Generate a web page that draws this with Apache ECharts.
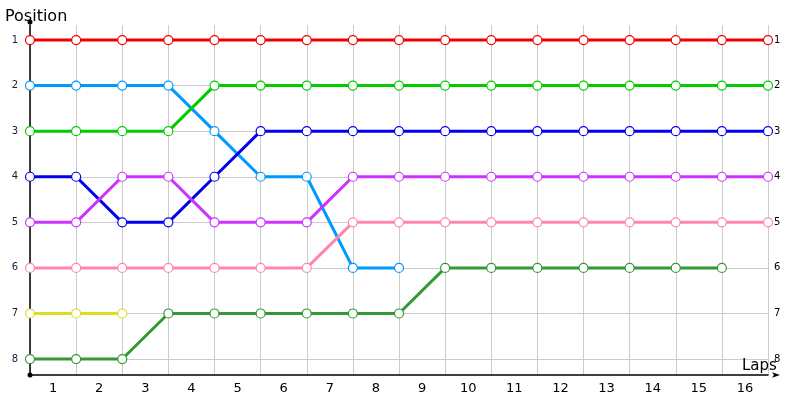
<!DOCTYPE html>
<html>
<head>
<meta charset="utf-8">
<script src="https://cdn.jsdelivr.net/npm/echarts@6/dist/echarts.min.js"></script>
<style>
  html, body { margin: 0; padding: 0; background: #fff; }
  #chart { width: 800px; height: 400px; }
</style>
</head>
<body>
<div id="chart"></div>
<script>
// lap labels and grid positions
var laps = ['1', '2', '3', '4', '5', '6', '7', '8', '9', '10', '11', '12', '13', '14', '15', '16'];
var positions = [1, 2, 3, 4, 5, 6, 7, 8];

// position of each car at every lap boundary (index = lap boundary 0..16)
var redCar    = [1, 1, 1, 1, 1, 1, 1, 1, 1, 1, 1, 1, 1, 1, 1, 1, 1];
var skyCar    = [2, 2, 2, 2, 3, 4, 4, 6, 6];
var greenCar  = [3, 3, 3, 3, 2, 2, 2, 2, 2, 2, 2, 2, 2, 2, 2, 2, 2];
var blueCar   = [4, 4, 5, 5, 4, 3, 3, 3, 3, 3, 3, 3, 3, 3, 3, 3, 3];
var purpleCar = [5, 5, 4, 4, 5, 5, 5, 4, 4, 4, 4, 4, 4, 4, 4, 4, 4];
var pinkCar   = [6, 6, 6, 6, 6, 6, 6, 5, 5, 5, 5, 5, 5, 5, 5, 5, 5];
var yellowCar = [7, 7, 7];
var forestCar = [8, 8, 8, 7, 7, 7, 7, 7, 7, 6, 6, 6, 6, 6, 6, 6];

var font = 'DejaVu Sans';

function track(values, color) {
    var pts = [];
    for (var i = 0; i < values.length; i++) {
        pts.push([i, values[i]]);
    }
    return {
        type: 'line',
        data: pts,
        symbol: 'circle',
        symbolSize: 9,
        lineStyle: { color: color, width: 3 },
        itemStyle: { color: '#fff', borderColor: color, borderWidth: 1.2, opacity: 1 },
        emphasis: { disabled: true },
        animation: false
    };
}

var chart = echarts.init(document.getElementById('chart'));

var option = {
    animation: false,
    title: {
        text: 'Position',
        left: 0,
        top: 4,
        textStyle: { fontFamily: font, fontSize: 16, fontWeight: 'normal', color: '#000' }
    },
    grid: { left: 30, right: 32, top: 25, bottom: 25, outerBoundsMode: 'none', containLabel: false },
    xAxis: [{
        type: 'value',
        min: 0,
        max: 16,
        interval: 1,
        name: 'Laps',
        nameLocation: 'end',
        nameGap: -26,
        nameMoveOverlap: false,
        nameTextStyle: {
            fontFamily: font, fontSize: 15, color: '#000',
            align: 'left', verticalAlign: 'bottom', padding: [0, 0, 1, 0]
        },
        axisLine: {
            lineStyle: { color: '#000', width: 1.5 },
            symbol: ['circle', 'arrow'],
            symbolSize: [4, 8],
            symbolOffset: [0, 12]
        },
        axisTick: { show: false },
        axisLabel: { show: false },
        splitLine: { show: true, lineStyle: { color: '#cccccc', width: 1 } }
    }, {
        type: 'category',
        data: laps,
        boundaryGap: true,
        position: 'bottom',
        axisLine: { show: false },
        axisTick: { show: false },
        splitLine: { show: false },
        axisLabel: { fontFamily: font, fontSize: 13, color: '#000', margin: 7 }
    }],
    yAxis: [{
        type: 'value',
        inverse: true,
        min: 0.67,
        max: 8.35,
        axisLine: {
            show: true,
            lineStyle: { color: '#000', width: 1.5 },
            symbol: ['circle', 'circle'],
            symbolSize: [5, 5],
            symbolOffset: [0, 3]
        },
        axisTick: { show: false, customValues: positions },
        axisLabel: {
            customValues: positions,
            fontFamily: font, fontSize: 10, color: '#1a1a40', margin: 12
        },
        splitLine: { show: true, lineStyle: { color: '#cccccc', width: 1 } }
    }, {
        type: 'value',
        inverse: true,
        position: 'right',
        min: 0.67,
        max: 8.35,
        axisLine: { show: false },
        axisTick: { show: false, customValues: positions },
        axisLabel: {
            customValues: positions,
            fontFamily: font, fontSize: 10, color: '#000', margin: 6
        },
        splitLine: { show: false }
    }],
    series: [
        track(redCar, '#ee0000'),
        track(skyCar, '#0099ff'),
        track(greenCar, '#00cc00'),
        track(blueCar, '#0000ee'),
        track(purpleCar, '#cc33ff'),
        track(pinkCar, '#ff88aa'),
        track(yellowCar, '#dddd22'),
        track(forestCar, '#339933')
    ]
};

chart.setOption(option);
</script>
</body>
</html>
